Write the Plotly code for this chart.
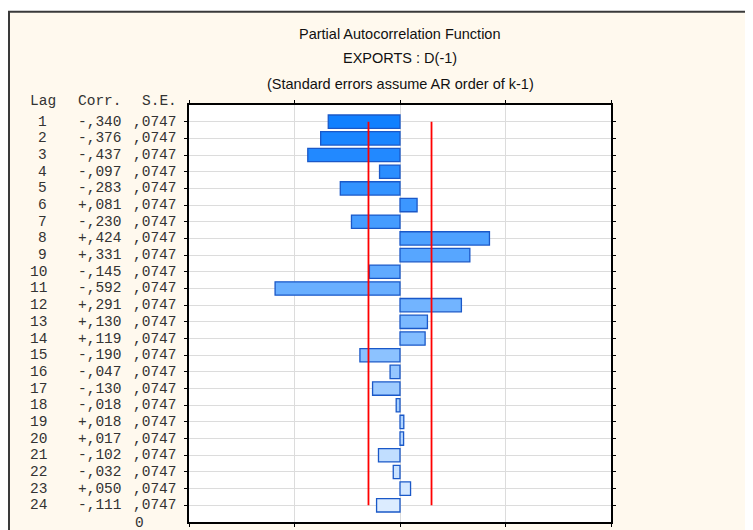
import plotly.graph_objects as go

# ---- data ----
lags = list(range(1, 25))
pacf = [-0.340, -0.376, -0.437, -0.097, -0.283, 0.081, -0.230, 0.424,
        0.331, -0.145, -0.592, 0.291, 0.130, 0.119, -0.190, -0.047,
        -0.130, -0.018, 0.018, 0.017, -0.102, -0.032, 0.050, -0.111]
se = [0.0747] * 24
title_lines = ["Partial Autocorrelation Function", "EXPORTS : D(-1)",
               "(Standard errors assume AR order of k-1)"]

# ---- geometry (page has an 8px body margin; work in page pixels) ----
OFF = 8
W, H = 753 - OFF, 530 - OFF
PL, PR, PT, PB = 189, 611, 105, 525          # plot box in page pixels
L, R, T, B = PL - OFF, W - (PR - OFF), PT - OFF, H - (PB - OFF)
pw, ph = W - L - R, H - T - B


def xp(px):
    return (px - OFF - L) / pw


def yp(py):
    return (H - B - (py - OFF)) / ph


# ---- bar colours (gradient dark -> light blue) ----
c0 = (16, 128, 255)
c1 = (220, 236, 255)
n = len(lags)
colors = []
for i in range(n):
    t = i / (n - 1)
    c = tuple(round(c0[k] + (c1[k] - c0[k]) * t) for k in range(3))
    colors.append("rgb(%d,%d,%d)" % c)

fig = go.Figure()
fig.add_trace(go.Bar(
    x=pacf, y=lags, orientation="h", width=0.8,
    marker=dict(color=colors, line=dict(color="#1A58C8", width=1.3)),
    showlegend=False, hoverinfo="x+y"))

lim = 2 * se[0]
for s in (-1, 1):
    fig.add_trace(go.Scatter(
        x=[s * lim, s * lim], y=[lags[0], lags[-1]], mode="lines",
        line=dict(color="#FF0000", width=1.8), showlegend=False,
        hoverinfo="skip"))

shapes = [
    dict(type="rect", xref="paper", yref="paper", layer="below",
         x0=xp(8), x1=xp(760), y0=yp(540), y1=yp(11),
         fillcolor="#FFF9EE", line=dict(width=0)),
    dict(type="line", xref="paper", yref="paper", layer="below",
         x0=xp(8), x1=xp(760), y0=yp(11), y1=yp(11),
         line=dict(color="#3A3A3A", width=2)),
    dict(type="line", xref="paper", yref="paper", layer="below",
         x0=xp(9), x1=xp(9), y0=yp(11), y1=yp(540),
         line=dict(color="#3A3A3A", width=2)),
    dict(type="rect", xref="paper", yref="paper", layer="below",
         x0=0, x1=1, y0=0, y1=1, fillcolor="white", line=dict(width=0)),
]

annotations = []
title_y = [33, 58, 84]
for t_, py in zip(title_lines, title_y):
    annotations.append(dict(
        text=t_, xref="paper", yref="paper", x=0.5, y=yp(py),
        xanchor="center", yanchor="middle", showarrow=False,
        font=dict(family="Liberation Sans, Arial", size=14.5,
                  color="#111111")))

mono = dict(family="Liberation Mono, Courier New, monospace", size=14.5,
            color="#333333")


def fmt_corr(v):
    return ("+" if v > 0 else "-") + "," + ("%.3f" % abs(v))[2:]


def fmt_se(v):
    return "," + ("%.4f" % v)[2:]


def txt(text, x, y, xanchor, yref="paper"):
    return dict(text=text, xref="paper", yref=yref, x=x, y=y,
                xanchor=xanchor, yanchor="middle", showarrow=False,
                font=mono, borderpad=0)


X_LAG, X_CORR, X_SE = 48, 123, 178
annotations.append(txt("Lag", xp(29), yp(101), "left"))
annotations.append(txt("Corr.", xp(X_CORR), yp(101), "right"))
annotations.append(txt("S.E.", xp(X_SE), yp(101), "right"))
for lag, v, s in zip(lags, pacf, se):
    annotations.append(txt(str(lag), xp(X_LAG), lag, "right", "y"))
    annotations.append(txt(fmt_corr(v), xp(X_CORR), lag, "right", "y"))
    annotations.append(txt(fmt_se(s), xp(X_SE), lag, "right", "y"))
annotations.append(txt("0", xp(145), yp(526), "right"))

fig.update_layout(
    width=W, height=H,
    margin=dict(l=L, r=R, t=T, b=B, pad=0),
    paper_bgcolor="white", plot_bgcolor="rgba(0,0,0,0)",
    shapes=shapes, annotations=annotations, bargap=0.2,
    xaxis=dict(range=[-1, 1], tickvals=[-1, -0.5, 0, 0.5, 1],
               showticklabels=False, ticks="outside", ticklen=3,
               tickcolor="black", showgrid=True, gridcolor="#DCDCDC",
               gridwidth=1, zeroline=False, showline=True,
               linecolor="black", linewidth=2, mirror="ticks"),
    yaxis=dict(range=[25, 0], tickvals=lags, showticklabels=False,
               ticks="outside", ticklen=3, tickcolor="black",
               showgrid=True, gridcolor="#DCDCDC", gridwidth=1,
               zeroline=False, showline=True, linecolor="black",
               linewidth=2, mirror="ticks"),
)

fig.write_html("out.html")
